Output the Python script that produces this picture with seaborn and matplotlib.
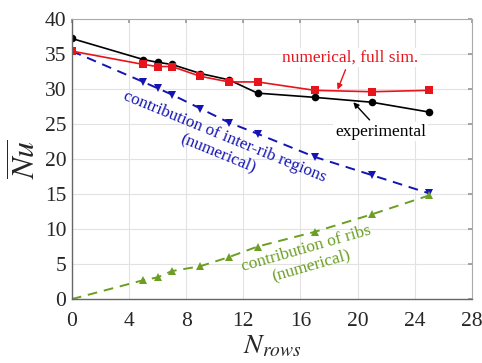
import matplotlib
matplotlib.use("Agg")
import matplotlib.pyplot as plt
import seaborn as sns
import pandas as pd
import numpy as np

# Number of rib rows
n_rows = [0, 5, 6, 7, 9, 11, 13, 17, 21, 25]

# Average Nusselt number
nu_experimental = [37.2, 34.2, 33.8, 33.5, 32.2, 31.3, 29.4, 28.8, 28.1, 26.7]
nu_numerical = [35.4, 33.5, 33.2, 33.2, 31.8, 31.0, 31.0, 29.8, 29.6, 29.8]
nu_inter_rib = [35.4, 31.0, 30.1, 29.2, 27.2, 25.2, 23.6, 20.3, 17.7, 15.1]
nu_ribs = [0.0, 2.7, 3.1, 4.0, 4.7, 6.0, 7.5, 9.6, 12.1, 14.8]

x_ticks = [0, 4, 8, 12, 16, 20, 24, 28]
y_ticks = [0, 5, 10, 15, 20, 25, 30, 35, 40]

sns.set_theme(style="whitegrid")
plt.rcParams["font.family"] = ["Liberation Serif", "DejaVu Serif"]
plt.rcParams["mathtext.fontset"] = "stix"

df = pd.DataFrame({
    "N": n_rows,
    "experimental": nu_experimental,
    "numerical": nu_numerical,
    "inter_rib": nu_inter_rib,
    "ribs": nu_ribs,
})

RED = "#e8141c"
BLUE = "#1414b4"
GREEN = "#6b9e22"

fig = plt.figure(figsize=(4.82, 3.63), dpi=100)
ax = fig.add_axes([0.149, 0.176, 0.83, 0.772])

sns.lineplot(data=df, x="N", y="inter_rib", ax=ax, color=BLUE, lw=1.4,
             linestyle=(0, (5, 3.5)), marker="v", markersize=6,
             markeredgewidth=0, markerfacecolor=BLUE)
sns.lineplot(data=df, x="N", y="ribs", ax=ax, color=GREEN, lw=1.4,
             linestyle=(0, (5, 3.5)), marker="^", markersize=6,
             markeredgewidth=0, markerfacecolor=GREEN)
sns.lineplot(data=df, x="N", y="experimental", ax=ax, color="black", lw=1.2,
             marker="o", markersize=5.5, markeredgewidth=0,
             markerfacecolor="black")
sns.lineplot(data=df, x="N", y="numerical", ax=ax, color=RED, lw=1.2,
             marker="s", markersize=6, markeredgewidth=0,
             markerfacecolor=RED)

ax.set_xlim(0, 28)
ax.set_ylim(0, 40)
ax.set_xticks(x_ticks)
ax.set_yticks(y_ticks)
ax.tick_params(axis="both", labelsize=15.5, direction="in", length=3,
               color="#999999", top=True, right=True,
               labeltop=False, labelright=False)
ax.tick_params(axis="x", pad=9)
ax.tick_params(axis="y", pad=4)
ax.grid(True, color="#e2e2e2", lw=0.8)
for side in ["top", "right"]:
    ax.spines[side].set_color("#aaaaaa")
    ax.spines[side].set_linewidth(0.8)
for side in ["left", "bottom"]:
    ax.spines[side].set_color("#666666")
    ax.spines[side].set_linewidth(1.0)

ax.set_xlabel(r"$N_{rows}$", fontsize=20, labelpad=2)
ax.set_ylabel(r"$\overline{Nu}$", fontsize=23, labelpad=1)

# Annotations
ax.annotate("numerical, full sim.", xy=(18.6, 29.9), xytext=(19.5, 34.5),
            color=RED, fontsize=12.5, ha="center", va="center",
            arrowprops=dict(arrowstyle="-|>", color=RED, lw=1.0,
                            mutation_scale=8, shrinkA=2, shrinkB=0),
            bbox=dict(boxstyle="square,pad=0.1", fc="white", ec="none"))
ax.annotate("experimental", xy=(19.7, 28.1), xytext=(21.6, 23.9),
            color="black", fontsize=12.5, ha="center", va="center",
            arrowprops=dict(arrowstyle="-|>", color="black", lw=1.0,
                            mutation_scale=8, shrinkA=2, shrinkB=0),
            bbox=dict(boxstyle="square,pad=0.1", fc="white", ec="none"))

ax.text(10.5, 22.0, "contribution of inter-rib regions\n(numerical)",
        color=BLUE, fontsize=12.3, ha="center", va="center", rotation=-22.3,
        rotation_mode="anchor", linespacing=1.1)
ax.text(16.6, 6.0, "contribution of ribs\n(numerical)",
        color=GREEN, fontsize=12.5, ha="center", va="center", rotation=16,
        rotation_mode="anchor", linespacing=1.1)

fig.savefig("out.png", dpi=100)
